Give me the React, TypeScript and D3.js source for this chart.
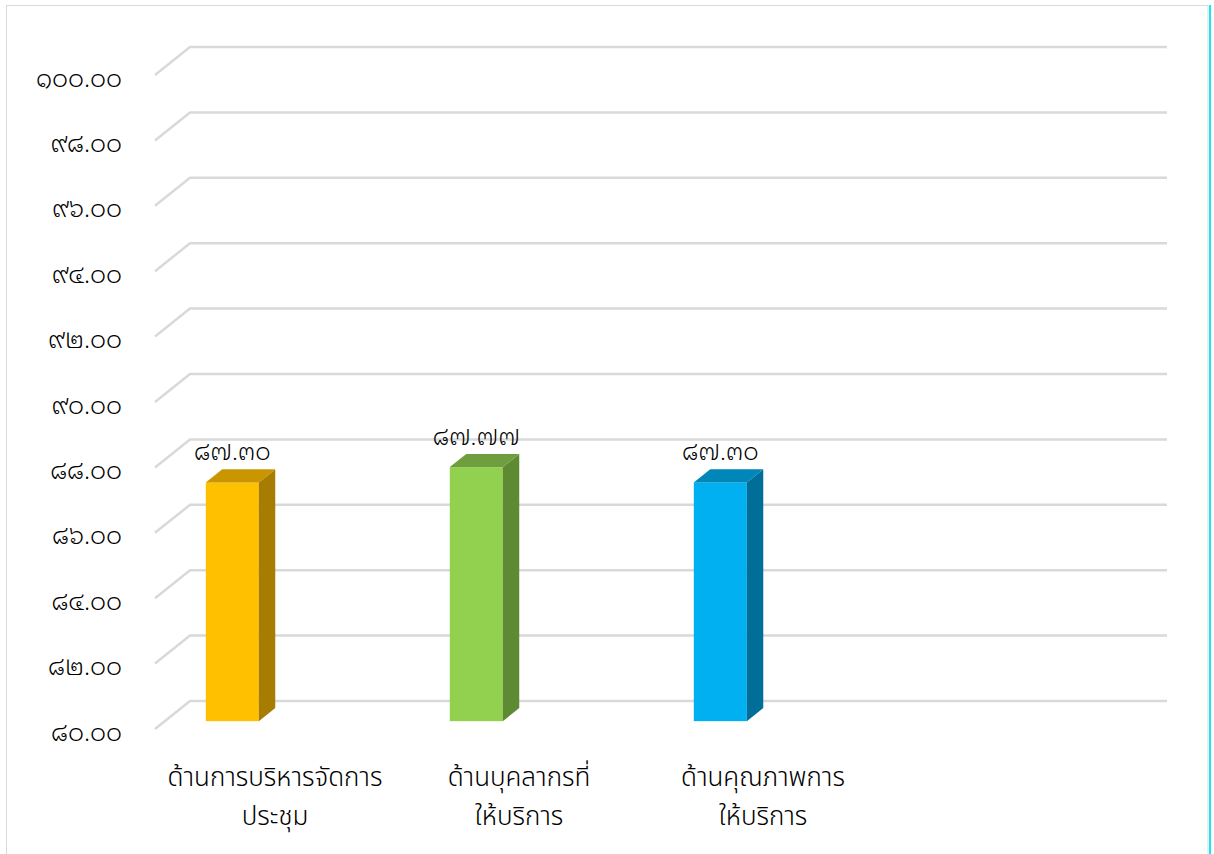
import React from "react";
import * as d3 from "d3";

// Satisfaction scores by aspect (Thai numerals are used for display)
const categories = ["ด้านการบริหารจัดการประชุม", "ด้านบุคลากรที่ให้บริการ", "ด้านคุณภาพการให้บริการ"];
const categoryLines = [
  ["ด้านการบริหารจัดการ", "ประชุม"],
  ["ด้านบุคลากรที่", "ให้บริการ"],
  ["ด้านคุณภาพการ", "ให้บริการ"],
];
const values = [87.3, 87.77, 87.3];
const yTicks = [80, 82, 84, 86, 88, 90, 92, 94, 96, 98, 100];

const faceColors = [
  { front: "#FFC000", side: "#A67D00", top: "#C99600" },
  { front: "#92D050", side: "#5E8A34", top: "#6F9E3E" },
  { front: "#00B0F0", side: "#006E98", top: "#0086B8" },
];

const thaiDigits = "๐๑๒๓๔๕๖๗๘๙";
const toThai = (s: string) => s.replace(/[0-9]/g, (d) => thaiDigits[+d]);

const W = 1214;
const H = 854;
const DX = 35; // depth offset of the back wall
const DY = 28;
const D0 = 0.28; // bar front depth fraction
const D1 = 0.75; // bar back depth fraction
const numFont = "'Noto Sans Thai Looped', 'Noto Sans Thai', sans-serif";
const catFont = "'Noto Sans Thai', sans-serif";

export default function App() {
  // back-wall vertical scale
  const y = d3.scaleLinear().domain([80, 100]).range([701, 47]);
  const frontX0 = 155;
  const bandW = 244;
  const x = d3
    .scaleBand<string>()
    .domain(categories)
    .range([frontX0, frontX0 + bandW * categories.length])
    .paddingInner(0)
    .paddingOuter(0);
  const backRight = 1167;
  const frontY = (v: number) => y(v) + DY;
  const barInset = 41;
  const barW = 53;

  return (
    <div style={{ position: "absolute", left: 0, top: 0, width: W, height: H, background: "#fff" }}>
      <svg width={W} height={H} style={{ display: "block" }}>
        <rect x={0} y={0} width={W} height={H} fill="#ffffff" />
        {/* outer frame */}
        <line x1={6} y1={5.5} x2={1208} y2={5.5} stroke="#D9D9D9" strokeWidth={1} />
        <line x1={6.5} y1={5} x2={6.5} y2={H} stroke="#D9D9D9" strokeWidth={1} />
        <line x1={1208} y1={5} x2={1208} y2={H} stroke="#D9D9D9" strokeWidth={1} />
        <line x1={1210} y1={5} x2={1210} y2={H} stroke="#19E4F2" strokeWidth={2} />

        {/* gridlines: side wall diagonal + back wall */}
        {yTicks.map((t) => (
          <g key={t}>
            <polyline
              points={`${frontX0},${frontY(t)} ${frontX0 + DX},${y(t)} ${backRight},${y(t)}`}
              fill="none"
              stroke="#D9D9D9"
              strokeWidth={2.5}
            />
            <text
              x={122}
              y={frontY(t) + 5}
              textAnchor="end"
              dominantBaseline="middle"
              fontSize={25}
              fontWeight={300}
              fill="#000"
              fontFamily={numFont}
            >
              {toThai(t.toFixed(2))}
            </text>
          </g>
        ))}

        {/* 3D bars */}
        {categories.map((c, i) => {
          const v = values[i];
          const col = faceColors[i];
          const fx = (x(c) as number) + barInset + D0 * DX;
          const fyTop = frontY(v) - D0 * DY;
          const fyBot = frontY(80) - D0 * DY;
          const ddx = (D1 - D0) * DX;
          const ddy = (D1 - D0) * DY;
          return (
            <g key={c}>
              <rect x={fx} y={fyTop} width={barW} height={fyBot - fyTop} fill={col.front} />
              <polygon
                points={`${fx + barW},${fyTop} ${fx + barW + ddx},${fyTop - ddy} ${fx + barW + ddx},${fyBot - ddy} ${fx + barW},${fyBot}`}
                fill={col.side}
              />
              <polygon
                points={`${fx},${fyTop} ${fx + barW},${fyTop} ${fx + barW + ddx},${fyTop - ddy} ${fx + ddx},${fyTop - ddy}`}
                fill={col.top}
              />
              <text
                x={fx + barW / 2}
                y={fyTop - ddy - 9}
                textAnchor="middle"
                fontSize={24}
                fontWeight={300}
                fill="#000"
                fontFamily={numFont}
              >
                {toThai(v.toFixed(2))}
              </text>
            </g>
          );
        })}

        {/* category labels */}
        {categories.map((c, i) => (
          <text
            key={c}
            x={(x(c) as number) + x.bandwidth() / 2 - 2}
            y={786}
            textAnchor="middle"
            fontSize={26}
            fontWeight={300}
            fill="#000"
            fontFamily={catFont}
          >
            {categoryLines[i].map((ln, j) => (
              <tspan key={j} x={(x(c) as number) + x.bandwidth() / 2 - 2} dy={j === 0 ? 0 : 39}>
                {ln}
              </tspan>
            ))}
          </text>
        ))}
      </svg>
    </div>
  );
}
